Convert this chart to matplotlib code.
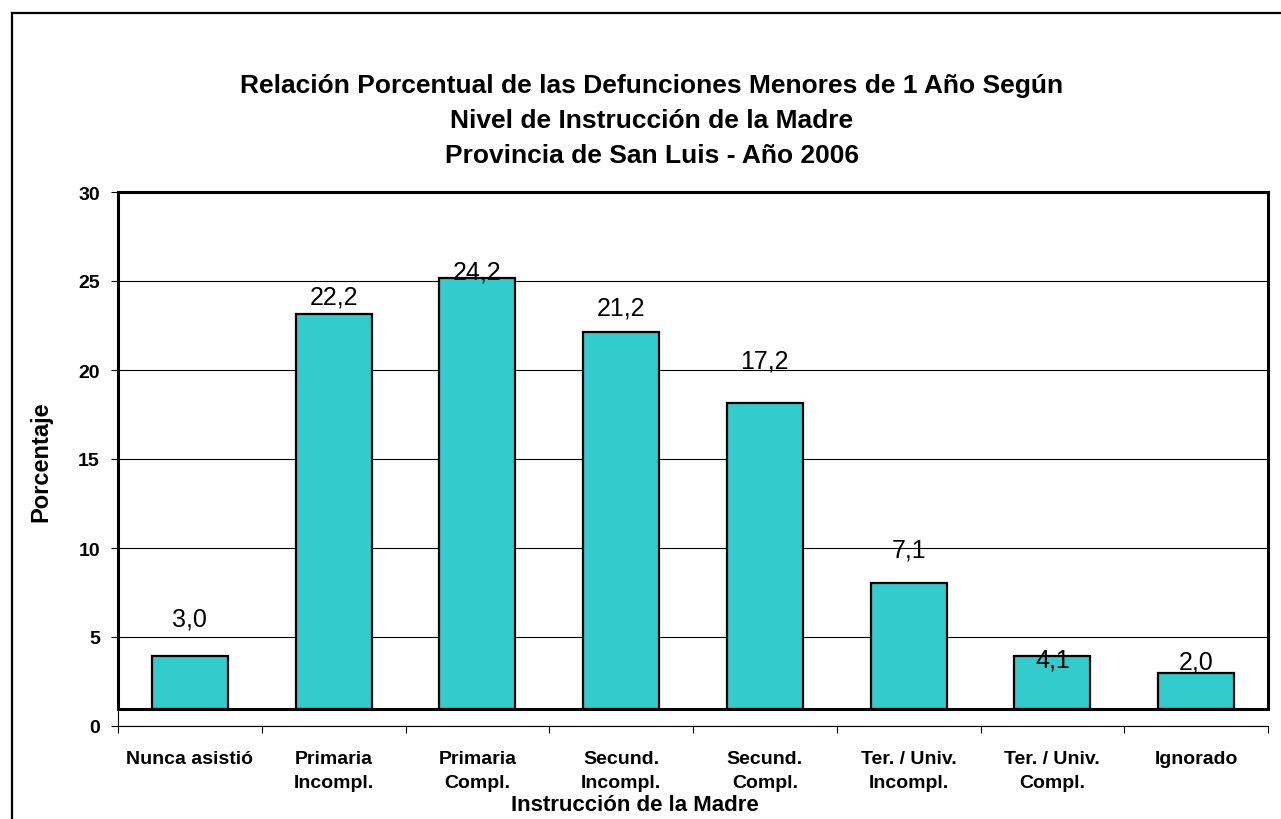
import numpy as np
import matplotlib.pyplot as plt
from matplotlib.patches import Rectangle
from matplotlib.lines import Line2D

plt.rcParams['font.family'] = ['Liberation Sans', 'DejaVu Sans']

# datos
categorias = ['Nunca asistió', 'Primaria\nIncompl.', 'Primaria\nCompl.', 'Secund.\nIncompl.',
              'Secund.\nCompl.', 'Ter. / Univ.\nIncompl.', 'Ter. / Univ.\nCompl.', 'Ignorado']
barras = [3.0, 22.2, 24.2, 21.2, 17.2, 7.1, 3.0, 2.0]       # altura dibujada
etiquetas = [3.0, 22.2, 24.2, 21.2, 17.2, 7.1, 4.1, 2.0]    # valor rotulado

# desplazamiento de las etiquetas (pixeles sobre el tope de la barra)
desplaz = [37, 17, 7, 24, 42, 33, -4, 12]
piso = 0.95

W, H = 1281, 820
fig = plt.figure(figsize=(W / 100, H / 100), dpi=100)
ax = fig.add_axes([118 / W, 1 - 727 / H, 1150 / W, 534 / H])

n = len(categorias)
x = np.arange(n) + 0.5
ax.bar(x, barras, width=0.53, bottom=piso, color='#33CCCC',
       edgecolor='black', linewidth=1.6, zorder=3)

for xi, b, v, d in zip(x, barras, etiquetas, desplaz):
    ax.annotate(f'{v:.1f}'.replace('.', ','), (xi, piso + b), xytext=(0, d),
                textcoords='offset pixels', ha='center', va='center',
                fontsize=18, zorder=5)

ax.set_xlim(0, n)
ax.set_ylim(0, 30)
ax.set_yticks(range(0, 31, 5))
ax.yaxis.grid(True, color='black', linewidth=0.8, zorder=0)
ax.set_axisbelow(True)

# caja del area de trazado
ax.add_patch(Rectangle((0, piso), n, 30 - piso, fill=False, edgecolor='black',
                       linewidth=2.2, zorder=4, clip_on=False))

for s in ['top', 'right']:
    ax.spines[s].set_visible(False)
for s in ['left', 'bottom']:
    ax.spines[s].set_linewidth(0.8)

ax.set_xticks(np.arange(n + 1))
ax.set_xticklabels([])
ax.set_xticks(x, minor=True)
ax.set_xticklabels(categorias, minor=True, fontsize=14, fontweight='bold', linespacing=1.6)
ax.tick_params(axis='x', which='major', direction='out', length=5, width=0.8)
ax.tick_params(axis='x', which='minor', length=0, pad=17)
ax.tick_params(axis='y', direction='out', length=5, width=0.8, labelsize=14, pad=8)
for t in ax.get_yticklabels():
    t.set_fontweight('bold')

fig.text(41 / W, 1 - 462 / H, 'Porcentaje', rotation=90, ha='center', va='center',
         fontsize=17, fontweight='bold')
fig.text(635 / W, 1 - 806 / H, 'Instrucción de la Madre', ha='center', va='center',
         fontsize=16, fontweight='bold')

titulos = ['Relación Porcentual de las Defunciones Menores de 1 Año Según',
           'Nivel de Instrucción de la Madre',
           'Provincia de San Luis - Año 2006']
for i, t in enumerate(titulos):
    fig.text(652 / W, 1 - (86 + 35 * i) / H, t, ha='center', va='center',
             fontsize=19, fontweight='bold')

# marco exterior
fig.add_artist(Line2D([12 / W, 12 / W], [0, 1 - 14 / H], color='black', linewidth=1.6))
fig.add_artist(Line2D([12 / W, 1], [1 - 14 / H, 1 - 14 / H], color='black', linewidth=1.6))

fig.savefig('out.png', dpi=100)
